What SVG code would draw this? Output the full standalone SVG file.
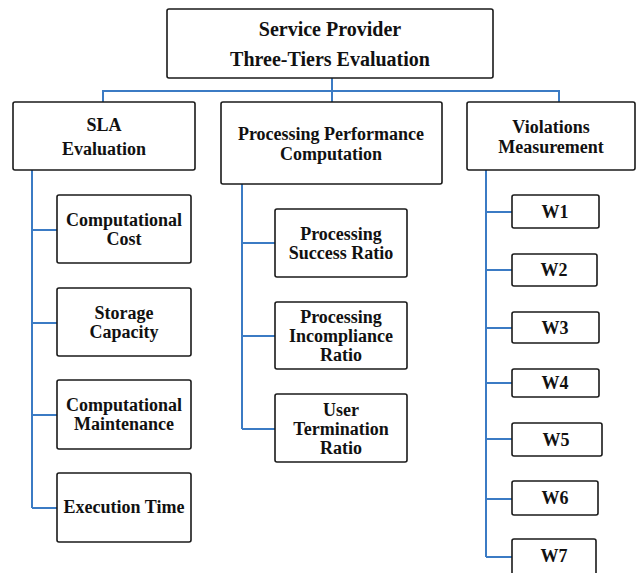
<svg xmlns="http://www.w3.org/2000/svg" width="637" height="573" viewBox="0 0 637 573">
<style>
.box{fill:#fff;stroke:#1a1a1a;stroke-width:1.6}
.t{font-family:'Liberation Serif','Times New Roman',Times,serif;font-weight:700;font-size:18px;fill:#111;text-anchor:middle}
.tt{font-size:20px}
.c{fill:none;stroke:#3b7bc4;stroke-width:2}
</style>
<rect width="637" height="573" fill="#fff"/>
<g id="connectors">
<path class="c" d="M332,78V91M103,102V91H559V102M332,91V102"/>
<path class="c" d="M32,170V508M32,230H57M32,323H57M32,415H57M32,508H57"/>
<path class="c" d="M242,184V429M242,243H275M242,336H275M242,429H275"/>
<path class="c" d="M486,170V557M486,212H512M486,270H512M486,328H512M486,383H512M486,439H512M486,499H512M486,557H512"/>
</g>
<g id="root"><rect class="box" x="167" y="9" width="326" height="69" rx="2"/><text class="t tt" x="330" y="36" font-family="Liberation Serif, serif">Service Provider</text><text class="t tt" x="330" y="66">Three-Tiers Evaluation</text></g>
<g id="sla"><rect class="box" x="13" y="102" width="182" height="68" rx="2"/><text class="t" x="104" y="131">SLA</text><text class="t" x="104" y="155">Evaluation</text></g>
<g id="ppc"><rect class="box" x="221" y="102" width="221" height="82" rx="2"/><text class="t" x="331" y="140">Processing Performance</text><text class="t" x="331" y="160">Computation</text></g>
<g id="vm"><rect class="box" x="467" y="102" width="168" height="68" rx="2"/><text class="t" x="551" y="133">Violations</text><text class="t" x="551" y="153">Measurement</text></g>
<g id="cost"><rect class="box" x="57" y="195" width="134" height="68" rx="2"/><text class="t" x="124" y="226">Computational</text><text class="t" x="124" y="245">Cost</text></g>
<g id="storage"><rect class="box" x="57" y="288" width="134" height="68" rx="2"/><text class="t" x="124" y="319">Storage</text><text class="t" x="124" y="338">Capacity</text></g>
<g id="maint"><rect class="box" x="57" y="380" width="134" height="69" rx="2"/><text class="t" x="124" y="411">Computational</text><text class="t" x="124" y="430">Maintenance</text></g>
<g id="exec"><rect class="box" x="57" y="473" width="134" height="69" rx="2"/><text class="t" x="124" y="513">Execution Time</text></g>
<g id="psr"><rect class="box" x="275" y="209" width="132" height="68" rx="2"/><text class="t" x="341" y="240">Processing</text><text class="t" x="341" y="259">Success Ratio</text></g>
<g id="pir"><rect class="box" x="275" y="302" width="132" height="67" rx="2"/><text class="t" x="341" y="323">Processing</text><text class="t" x="341" y="342">Incompliance</text><text class="t" x="341" y="361">Ratio</text></g>
<g id="utr"><rect class="box" x="275" y="394" width="132" height="68" rx="2"/><text class="t" x="341" y="416">User</text><text class="t" x="341" y="435">Termination</text><text class="t" x="341" y="454">Ratio</text></g>
<g id="w1"><rect class="box" x="512" y="195" width="87" height="33" rx="2"/><text class="t" x="555" y="218">W1</text></g>
<g id="w2"><rect class="box" x="512" y="254" width="85" height="32" rx="2"/><text class="t" x="554" y="276">W2</text></g>
<g id="w3"><rect class="box" x="512" y="312" width="87" height="31" rx="2"/><text class="t" x="555" y="334">W3</text></g>
<g id="w4"><rect class="box" x="512" y="369" width="87" height="28" rx="2"/><text class="t" x="555" y="389">W4</text></g>
<g id="w5"><rect class="box" x="512" y="423" width="90" height="33" rx="2"/><text class="t" x="556" y="446">W5</text></g>
<g id="w6"><rect class="box" x="512" y="481" width="86" height="34" rx="2"/><text class="t" x="555" y="504">W6</text></g>
<g id="w7"><rect class="box" x="512" y="539" width="84" height="38" rx="2"/><text class="t" x="554" y="562">W7</text></g>
</svg>
